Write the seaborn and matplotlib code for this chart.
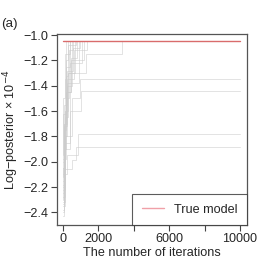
import numpy as np
import pandas as pd
import matplotlib
matplotlib.use("Agg")
import matplotlib.pyplot as plt
import seaborn as sns

# ── data: each chain is a running-best trace (breakpoints of a step curve) ──
N_ITER = 10000
TRUE_LP = -1.05

chain_iters = [
    [0, 60, 130, 200],
    [0, 40, 110, 180, 300],
    [0, 80, 160, 400],
    [0, 100, 250, 500],
    [0, 50, 200, 350, 600],
    [0, 120, 300, 700],
    [0, 70, 180, 450, 800],
    [0, 90, 260, 550, 1000],
    [0, 150, 400, 1100],
    [0, 60, 220, 650, 1350],
    [0, 110, 300, 1300, 3330],
    [0, 30, 140, 380],
    [0, 80, 230, 900],
    [0, 100, 500, 980],
    [0, 130, 420, 1040],
    [0, 60, 250, 880],
    [0, 90, 500, 730],
    [0, 40, 170, 320, 750],
    [0, 200, 480, 1200],
]
chain_values = [
    [-2.43, -1.95, -1.35, -1.05],
    [-2.30, -2.05, -1.60, -1.20, -1.05],
    [-2.38, -1.70, -1.25, -1.05],
    [-2.20, -1.80, -1.40, -1.05],
    [-2.25, -1.90, -1.50, -1.12, -1.05],
    [-2.10, -1.65, -1.30, -1.05],
    [-2.15, -1.75, -1.45, -1.18, -1.05],
    [-2.00, -1.55, -1.28, -1.10, -1.05],
    [-2.32, -1.85, -1.22, -1.05],
    [-2.05, -1.70, -1.35, -1.12, -1.05],
    [-2.28, -1.60, -1.30, -1.15, -1.05],
    [-1.95, -1.50, -1.15, -1.05],
    [-2.18, -1.72, -1.38, -1.05],
    [-2.22, -1.80, -1.50, -1.345],
    [-2.35, -1.90, -1.60, -1.44],
    [-2.40, -2.10, -1.95, -1.78],
    [-2.33, -2.06, -1.99, -1.88],
    [-2.12, -1.62, -1.32, -1.08, -1.05],
    [-1.98, -1.45, -1.20, -1.05],
]

x_ticks = [0, 2000, 4000, 6000, 8000, 10000]
x_ticklabels = ["0", "2000", "", "6000", "", "10000"]
y_ticks = [-1.0, -1.2, -1.4, -1.6, -1.8, -2.0, -2.2, -2.4]

# long table, last value carried to the final iteration
rows = []
for k, (its, vals) in enumerate(zip(chain_iters, chain_values)):
    for it, v in zip(its + [N_ITER], vals + [vals[-1]]):
        rows.append({"chain": k, "iteration": it, "lp": v})
df = pd.DataFrame(rows)

sns.set_style("ticks")
plt.rcParams["font.family"] = ["Liberation Sans", "DejaVu Sans"]
plt.rcParams["axes.unicode_minus"] = True
FS = 9.1

fig = plt.figure(figsize=(2.66, 2.66), dpi=100)
ax = fig.add_axes([0.214, 0.154, 0.716, 0.72])

sns.lineplot(data=df, x="iteration", y="lp", units="chain", estimator=None,
             drawstyle="steps-post", color="#cccccc", alpha=0.55, lw=0.7,
             sort=False, ax=ax, legend=False)
sns.lineplot(x=[0, N_ITER], y=[TRUE_LP, TRUE_LP], color="#d96c6c", lw=1.0,
             label="True model", ax=ax)

ax.set_xlim(-330, 10420)
ax.set_ylim(-2.50, -0.988)
ax.set_xticks(x_ticks)
ax.set_xticklabels(x_ticklabels, fontsize=FS)
ax.set_yticks(y_ticks)
ax.set_yticklabels([f"{t:.1f}".replace("-", "\u2212") for t in y_ticks], fontsize=FS)
ax.tick_params(length=4, width=0.8, color="#444444", pad=2)
for s in ax.spines.values():
    s.set_color("#555555")
    s.set_linewidth(0.9)

ax.set_xlabel("The number of iterations", fontsize=FS, labelpad=1)
ax.set_ylabel("Log\u2212posterior \u00d7 10$^{-4}$", fontsize=FS, labelpad=2)

leg = ax.legend(loc="lower right", fontsize=FS, frameon=True, fancybox=False,
                borderaxespad=0, handlelength=1.8, borderpad=0.75,
                handletextpad=0.8)
leg.get_frame().set_edgecolor("#333333")
leg.get_frame().set_linewidth(0.8)
for h in leg.get_lines():
    h.set_color("#f0a0a8")

fig.text(0.005, 0.9, "(a)", fontsize=FS + 0.5)

fig.savefig("out.png", dpi=100)
